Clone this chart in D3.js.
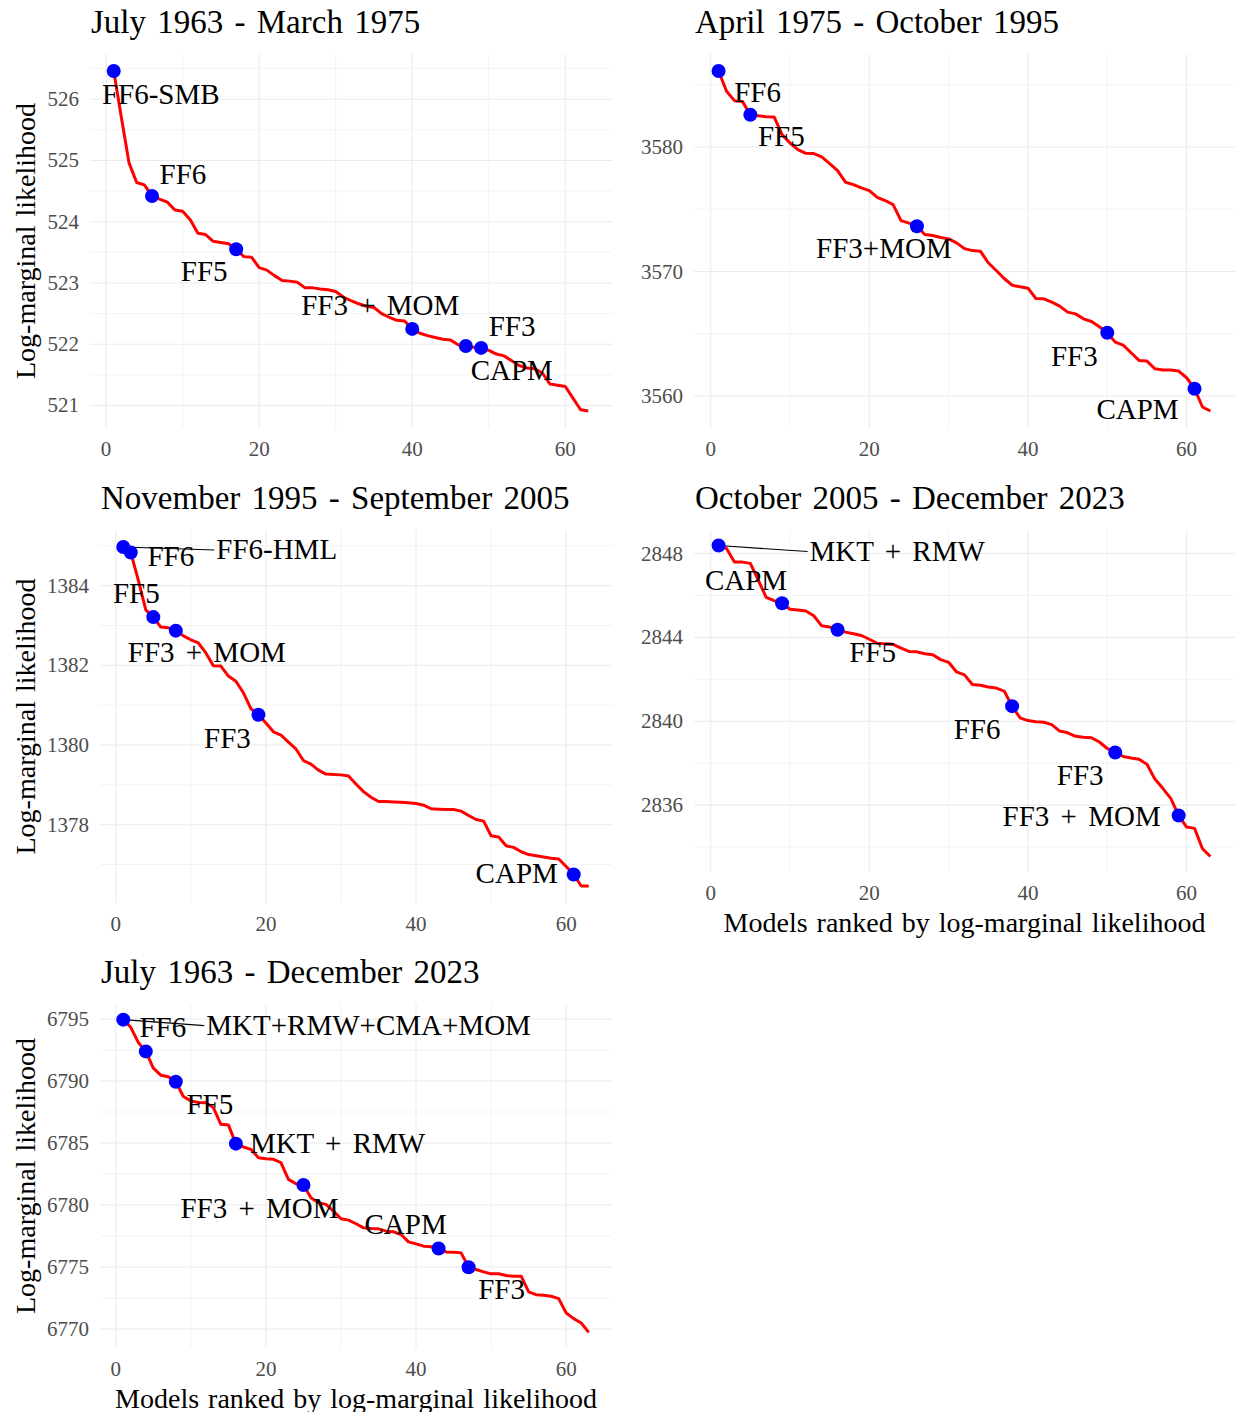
<!DOCTYPE html>
<html>
<head>
<meta charset="utf-8">
<script src="https://cdn.jsdelivr.net/npm/d3@7"></script>
<style>
  body { margin: 0; background: #fff; }
  text { font-family: "Liberation Serif", "Times New Roman", serif; }
</style>
</head>
<body>
<svg width="1238" height="1412"></svg>
<script>
// log-marginal likelihood of the 63 models, ranked, one array per sample period
const ll_1963_1975 = [526.46, 525.70, 524.96, 524.64, 524.60, 524.42, 524.37, 524.32, 524.19, 524.17,
  524.03, 523.81, 523.79, 523.68, 523.66, 523.64, 523.55, 523.43, 523.42, 523.25,
  523.21, 523.12, 523.04, 523.03, 523.01, 522.92, 522.92, 522.90, 522.89, 522.86,
  522.77, 522.71, 522.66, 522.62, 522.60, 522.50, 522.44, 522.39, 522.38, 522.25,
  522.18, 522.14, 522.11, 522.08, 522.07, 521.99, 521.97, 521.95, 521.94, 521.90,
  521.84, 521.81, 521.73, 521.65, 521.61, 521.60, 521.53, 521.35, 521.33, 521.31,
  521.12, 520.93, 520.91];

const ll_1975_1995 = [3586.10, 3584.47, 3583.72, 3583.66, 3582.59, 3582.51, 3582.43, 3582.41, 3580.99, 3580.32,
  3579.79, 3579.49, 3579.47, 3579.20, 3578.66, 3578.10, 3577.17, 3576.98, 3576.71, 3576.50,
  3575.96, 3575.70, 3575.37, 3574.09, 3573.88, 3573.64, 3572.97, 3572.89, 3572.73, 3572.62,
  3572.30, 3571.84, 3571.68, 3571.63, 3570.70, 3570.08, 3569.44, 3568.90, 3568.77, 3568.66,
  3567.83, 3567.81, 3567.54, 3567.22, 3566.74, 3566.60, 3566.20, 3565.99, 3565.56, 3565.08,
  3564.33, 3564.09, 3563.48, 3562.86, 3562.81, 3562.19, 3562.09, 3562.09, 3562.01, 3561.47,
  3560.59, 3559.12, 3558.80];

const ll_1995_2005 = [1384.97, 1384.83, 1384.14, 1383.39, 1383.21, 1382.96, 1382.94, 1382.87, 1382.74, 1382.64,
  1382.56, 1382.31, 1381.99, 1381.98, 1381.73, 1381.60, 1381.31, 1380.91, 1380.76, 1380.55,
  1380.33, 1380.25, 1380.07, 1379.90, 1379.61, 1379.52, 1379.37, 1379.27, 1379.26, 1379.25,
  1379.22, 1379.02, 1378.83, 1378.69, 1378.58, 1378.58, 1378.57, 1378.56, 1378.55, 1378.53,
  1378.49, 1378.40, 1378.39, 1378.38, 1378.38, 1378.34, 1378.23, 1378.13, 1378.09, 1377.72,
  1377.69, 1377.47, 1377.43, 1377.32, 1377.25, 1377.22, 1377.19, 1377.16, 1377.14, 1376.95,
  1376.75, 1376.46, 1376.46];

const ll_2005_2023 = [2848.38, 2848.24, 2847.60, 2847.59, 2847.53, 2846.73, 2845.91, 2845.75, 2845.63, 2845.34,
  2845.31, 2845.26, 2845.03, 2844.55, 2844.49, 2844.36, 2844.25, 2844.17, 2844.09, 2843.91,
  2843.72, 2843.69, 2843.67, 2843.49, 2843.33, 2843.31, 2843.22, 2843.17, 2842.94, 2842.81,
  2842.35, 2842.21, 2841.75, 2841.72, 2841.63, 2841.58, 2841.44, 2840.72, 2840.16, 2840.03,
  2839.98, 2839.95, 2839.84, 2839.53, 2839.45, 2839.28, 2839.24, 2839.21, 2839.01, 2838.70,
  2838.51, 2838.32, 2838.25, 2838.19, 2837.95, 2837.24, 2836.80, 2836.32, 2835.50, 2834.95,
  2834.89, 2833.92, 2833.55];

const ll_1963_2023 = [6794.95, 6794.33, 6793.11, 6792.39, 6791.04, 6790.47, 6790.34, 6789.94, 6788.75, 6788.40,
  6788.27, 6788.24, 6787.86, 6786.51, 6786.46, 6784.95, 6784.68, 6784.49, 6783.82, 6783.74,
  6783.69, 6783.42, 6782.07, 6781.72, 6781.61, 6780.59, 6780.18, 6780.05, 6779.51, 6778.89,
  6778.78, 6778.49, 6778.16, 6778.11, 6778.08, 6777.89, 6777.84, 6777.62, 6777.03, 6776.87,
  6776.68, 6776.63, 6776.49, 6776.22, 6776.20, 6776.14, 6774.98, 6774.80, 6774.61, 6774.45,
  6774.45, 6774.31, 6774.26, 6774.26, 6772.99, 6772.77, 6772.72, 6772.64, 6772.45, 6771.29,
  6770.84, 6770.48, 6769.73];

// labelled models: rank and name
const labelRanks_1963_1975 = [1, 6, 17, 40, 49, 47];
const labelNames_1963_1975 = ['FF6-SMB', 'FF6', 'FF5', 'FF3 + MOM', 'FF3', 'CAPM'];
const labelRanks_1975_1995 = [1, 5, 26, 50, 61];
const labelNames_1975_1995 = ['FF6', 'FF5', 'FF3+MOM', 'FF3', 'CAPM'];
const labelRanks_1995_2005 = [1, 2, 5, 8, 19, 61];
const labelNames_1995_2005 = ['FF6-HML', 'FF6', 'FF5', 'FF3 + MOM', 'FF3', 'CAPM'];
const labelRanks_2005_2023 = [1, 9, 16, 38, 51, 59];
const labelNames_2005_2023 = ['MKT + RMW', 'CAPM', 'FF5', 'FF6', 'FF3', 'FF3 + MOM'];
const labelRanks_1963_2023 = [1, 4, 8, 16, 25, 43, 47];
const labelNames_1963_2023 = ['MKT+RMW+CMA+MOM', 'FF6', 'FF5', 'MKT + RMW', 'FF3 + MOM', 'CAPM', 'FF3'];

const titles = ['July 1963 - March 1975', 'April 1975 - October 1995', 'November 1995 - September 2005',
  'October 2005 - December 2023', 'July 1963 - December 2023'];

const yTicks_1963_1975 = [521, 522, 523, 524, 525, 526];
const yTicks_1975_1995 = [3560, 3570, 3580];
const yTicks_1995_2005 = [1378, 1380, 1382, 1384];
const yTicks_2005_2023 = [2836, 2840, 2844, 2848];
const yTicks_1963_2023 = [6770, 6775, 6780, 6785, 6790, 6795];
const xTicks = [0, 20, 40, 60];

const yTitle = 'Log-marginal likelihood';
const xTitle = 'Models ranked by log-marginal likelihood';

// layout: label offsets in px from the point (repel-like placement), seg = leader line
const offs1 = [[47, 33], [31, -12], [-32, 32], [-32, -14], [31, -12], [46, 34]];
const offs2 = [[39, 31], [31, 31], [-33, 32], [-33, 33], [-57, 30]];
const offs3 = [[93, 12, 'seg'], [40, 13], [-17, -14], [31, 31], [-31, 33], [-57, 9]];
const offs4 = [[91, 15, 'seg'], [-36, -13], [35, 32], [-35, 33], [-35, 33], [-97, 10]];
const offs5 = [[83, 15, 'seg'], [17, -14], [34, 32], [14, 9, 'start'], [-44, 33], [-33, -15], [33, 32]];

const panels = [
  {title: titles[0], values: ll_1963_1975, ranks: labelRanks_1963_1975, names: labelNames_1963_1975, ticks: yTicks_1963_1975, offs: offs1,
   left: 90, right: 612, top: 54, bottom: 428, yLab: true, xLab: false},
  {title: titles[1], values: ll_1975_1995, ranks: labelRanks_1975_1995, names: labelNames_1975_1995, ticks: yTicks_1975_1995, offs: offs2,
   left: 694, right: 1235, top: 54, bottom: 428, yLab: false, xLab: false},
  {title: titles[2], values: ll_1995_2005, ranks: labelRanks_1995_2005, names: labelNames_1995_2005, ticks: yTicks_1995_2005, offs: offs3,
   left: 100, right: 612, top: 530, bottom: 903, yLab: true, xLab: false},
  {title: titles[3], values: ll_2005_2023, ranks: labelRanks_2005_2023, names: labelNames_2005_2023, ticks: yTicks_2005_2023, offs: offs4,
   left: 694, right: 1235, top: 530, bottom: 872, yLab: false, xLab: true},
  {title: titles[4], values: ll_1963_2023, ranks: labelRanks_1963_2023, names: labelNames_1963_2023, ticks: yTicks_1963_2023, offs: offs5,
   left: 100, right: 612, top: 1004, bottom: 1348, yLab: true, xLab: true}
];

const svg = d3.select('svg');
svg.append('rect').attr('width', 1238).attr('height', 1412).attr('fill', '#fff');

const gridCol = '#EBEBEB';

const render = p => {
  const data = p.values.map((v, i) => ({rank: i + 1, ll: v}));

  // ggplot-style 5% expansion of the data range
  const xExt = d3.extent(data, d => d.rank);
  const xPad = (xExt[1] - xExt[0]) * 0.05;
  const yExt = d3.extent(data, d => d.ll);
  const yPad = (yExt[1] - yExt[0]) * 0.05;

  const xScale = d3.scaleLinear()
    .domain([xExt[0] - xPad, xExt[1] + xPad])
    .range([p.left, p.right]);
  const yScale = d3.scaleLinear()
    .domain([yExt[0] - yPad, yExt[1] + yPad])
    .range([p.bottom, p.top]);

  const g = svg.append('g');

  // minor grid
  const yStep = p.ticks[1] - p.ticks[0];
  const yMinor = d3.range(p.ticks[0] - yStep / 2, p.ticks[p.ticks.length - 1] + yStep, yStep)
    .filter(v => v >= yScale.domain()[0] && v <= yScale.domain()[1]);
  const xMinor = [10, 30, 50];

  g.selectAll('.ymin').data(yMinor).enter().append('line')
    .attr('x1', p.left).attr('x2', p.right)
    .attr('y1', d => yScale(d)).attr('y2', d => yScale(d))
    .attr('stroke', gridCol).attr('stroke-width', 0.6);
  g.selectAll('.xmin').data(xMinor).enter().append('line')
    .attr('y1', p.top).attr('y2', p.bottom)
    .attr('x1', d => xScale(d)).attr('x2', d => xScale(d))
    .attr('stroke', gridCol).attr('stroke-width', 0.6);

  // major grid
  g.selectAll('.ymaj').data(p.ticks).enter().append('line')
    .attr('x1', p.left).attr('x2', p.right)
    .attr('y1', d => yScale(d)).attr('y2', d => yScale(d))
    .attr('stroke', gridCol).attr('stroke-width', 1.1);
  g.selectAll('.xmaj').data(xTicks).enter().append('line')
    .attr('y1', p.top).attr('y2', p.bottom)
    .attr('x1', d => xScale(d)).attr('x2', d => xScale(d))
    .attr('stroke', gridCol).attr('stroke-width', 1.1);

  // tick labels
  g.selectAll('.ytl').data(p.ticks).enter().append('text')
    .attr('x', p.left - 11).attr('y', d => yScale(d))
    .attr('text-anchor', 'end').attr('dominant-baseline', 'central')
    .attr('font-size', 21).attr('fill', '#4D4D4D')
    .text(d => d);
  g.selectAll('.xtl').data(xTicks).enter().append('text')
    .attr('x', d => xScale(d)).attr('y', p.bottom + 21)
    .attr('text-anchor', 'middle').attr('dominant-baseline', 'central')
    .attr('font-size', 21).attr('fill', '#4D4D4D')
    .text(d => d);

  // the ranked curve
  const line = d3.line().x(d => xScale(d.rank)).y(d => yScale(d.ll));
  g.append('path').datum(data)
    .attr('d', line)
    .attr('fill', 'none').attr('stroke', '#FF0000').attr('stroke-width', 3)
    .attr('stroke-linejoin', 'round');

  // labelled models
  const lab = p.ranks.map((r, i) => ({rank: r, ll: p.values[r - 1], name: p.names[i], off: p.offs[i]}));

  g.selectAll('.seg').data(lab.filter(d => d.off[2] === 'seg')).enter().append('line')
    .attr('x1', d => xScale(d.rank)).attr('y1', d => yScale(d.ll))
    .attr('x2', d => xScale(d.rank) + d.off[0] - 2).attr('y2', d => yScale(d.ll) + d.off[1] - 9)
    .attr('stroke', '#000').attr('stroke-width', 1.1);

  g.selectAll('circle').data(lab).enter().append('circle')
    .attr('cx', d => xScale(d.rank)).attr('cy', d => yScale(d.ll))
    .attr('r', 7).attr('fill', '#0000FF');

  g.selectAll('.lab').data(lab).enter().append('text')
    .attr('x', d => xScale(d.rank) + d.off[0]).attr('y', d => yScale(d.ll) + d.off[1])
    .attr('text-anchor', d => d.off[2] ? 'start' : 'middle')
    .attr('font-size', 29).attr('word-spacing', 4).attr('fill', '#000')
    .text(d => d.name);

  // titles
  g.append('text')
    .attr('x', p.left + 1).attr('y', p.top - 21)
    .attr('font-size', 33).attr('word-spacing', 3).attr('fill', '#000')
    .text(p.title);

  if (p.yLab) {
    g.append('text')
      .attr('transform', `translate(25,${(p.top + p.bottom) / 2}) rotate(-90)`)
      .attr('text-anchor', 'middle').attr('dominant-baseline', 'central')
      .attr('font-size', 28).attr('word-spacing', 2).attr('fill', '#000')
      .text(yTitle);
  }
  if (p.xLab) {
    g.append('text')
      .attr('x', (p.left + p.right) / 2).attr('y', p.bottom + 50)
      .attr('text-anchor', 'middle').attr('dominant-baseline', 'central')
      .attr('font-size', 28).attr('word-spacing', 2).attr('fill', '#000')
      .text(xTitle);
  }
};

panels.forEach(render);
</script>
</body>
</html>
